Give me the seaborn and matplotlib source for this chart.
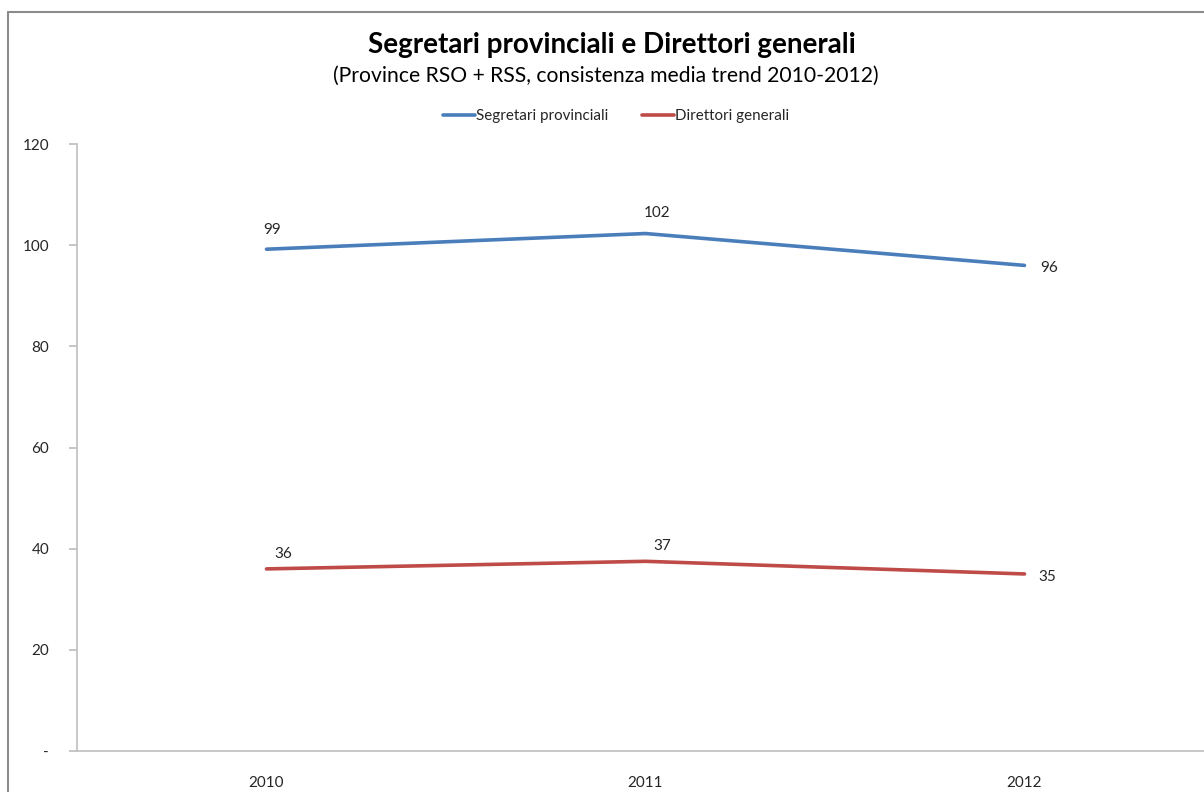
import matplotlib
matplotlib.use("Agg")
import matplotlib.pyplot as plt
import seaborn as sns
import pandas as pd
from matplotlib.lines import Line2D

years = ["2010", "2011", "2012"]
segretari = [99.2, 102.3, 96.0]
direttori = [36.0, 37.5, 35.0]
series_names = ["Segretari provinciali", "Direttori generali"]
label_segretari = ["99", "102", "96"]
label_direttori = ["36", "37", "35"]
yticks = [0, 20, 40, 60, 80, 100, 120]
yticklabels = ["-", "20", "40", "60", "80", "100", "120"]

sns.set_theme(style="white")
plt.rcParams["font.family"] = ["Lato", "DejaVu Sans"]

df = pd.DataFrame({
    "anno": years * 2,
    "valore": segretari + direttori,
    "serie": [series_names[0]] * 3 + [series_names[1]] * 3,
})

W, H = 1204, 792
fig = plt.figure(figsize=(W / 100, H / 100), dpi=100)
fig.patch.set_facecolor("white")
# outer chart border (left and top visible, the rest lies outside the crop)
fig.add_artist(Line2D([8 / W, 8 / W], [0, 1 - 12 / H], transform=fig.transFigure,
                      color="#8c8c8c", linewidth=1.5))
fig.add_artist(Line2D([8 / W, 1.01], [1 - 12 / H, 1 - 12 / H], transform=fig.transFigure,
                      color="#8c8c8c", linewidth=1.5))

left_px, right_px = 77, 1204
cat_px = 379.0
ax = fig.add_axes([left_px / W, 41 / H, (right_px - left_px) / W, (751 - 144) / H])
palette = {series_names[0]: "#4A7EBB", series_names[1]: "#BE4B48"}
sns.lineplot(data=df, x="anno", y="valore", hue="serie", palette=palette,
             linewidth=2.6, ax=ax, sort=False, legend=False)

ax.set_xlim(-0.5, -0.5 + (right_px - left_px) / cat_px)
ax.set_ylim(0, 120)
ax.set_yticks(yticks)
ax.set_yticklabels(yticklabels)
ax.set_xlabel("")
ax.set_ylabel("")
for s in ["top", "right"]:
    ax.spines[s].set_visible(False)
for s in ["left", "bottom"]:
    ax.spines[s].set_color("#bfbfbf")
    ax.spines[s].set_linewidth(1.2)
ax.tick_params(axis="y", which="both", left=True, right=False, length=6, color="#bfbfbf",
               labelsize=11, labelcolor="#262626", pad=14)
ax.tick_params(axis="x", bottom=False, top=False, labelsize=11, labelcolor="#262626", pad=12)
ax.grid(False)

# data labels
seg_offs = [(6, 12), (12, 14), (25, -3)]
dir_offs = [(17, 8), (17, 8), (23, -3)]
for i, (v, l) in enumerate(zip(segretari, label_segretari)):
    ax.annotate(l, (i, v), xytext=seg_offs[i], textcoords="offset pixels",
                ha="center", va="bottom" if i < 2 else "center", fontsize=11, color="#262626")
for i, (v, l) in enumerate(zip(direttori, label_direttori)):
    ax.annotate(l, (i, v), xytext=dir_offs[i], textcoords="offset pixels",
                ha="center", va="bottom" if i < 2 else "center", fontsize=11, color="#262626")

# legend
handles = [Line2D([], [], color=palette[n], linewidth=2.6) for n in series_names]
fig.legend(handles, series_names, loc="center", bbox_to_anchor=(616 / W, 1 - 116 / H),
           ncol=2, frameon=False, fontsize=10.9, handlelength=2.1, handletextpad=0.1,
           columnspacing=2.2)

fig.text(612 / W, 1 - 45 / H, "Segretari provinciali e Direttori generali",
         ha="center", va="center", fontsize=20, fontweight="bold", color="black")
fig.text(606 / W, 1 - 76 / H, "(Province RSO + RSS, consistenza media trend 2010-2012)",
         ha="center", va="center", fontsize=15.2, color="black")

fig.savefig("out.png", dpi=100)
